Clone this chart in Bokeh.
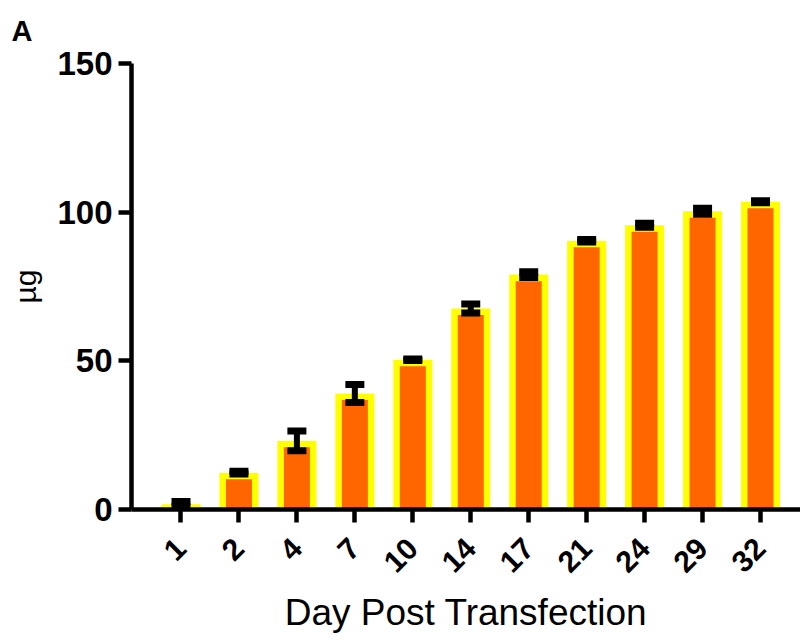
from bokeh.plotting import figure
from bokeh.models import ColumnDataSource, Range1d, FixedTicker, Whisker, TeeHead
from bokeh.embed import file_html
from bokeh.resources import INLINE

# ---- data ----
days = ["1", "2", "4", "7", "10", "14", "17", "21", "24", "29", "32"]
mean_ug = [1.8, 12.4, 23.1, 39.0, 50.4, 67.6, 79.0, 90.4, 95.6, 100.3, 103.5]
sd_ug = [0.9, 0.45, 3.3, 3.0, 0.25, 1.5, 1.0, 0.4, 0.7, 1.0, 0.3]
y_ticks = [0, 50, 100, 150]

# ---- styling constants ----
FONT = "Liberation Sans"
ORANGE = "#FF6600"
YELLOW = "#FFFF00"
BORDER = 2.2  # yellow rim thickness, in y units
W, H = 800, 636

idx = list(range(len(days)))
inner_top = [max(m - BORDER, 0) for m in mean_ug]
src = ColumnDataSource(dict(
    x=idx,
    mean=mean_ug,
    inner=inner_top,
    upper=[m + s for m, s in zip(mean_ug, sd_ug)],
    lower=[m - s for m, s in zip(mean_ug, sd_ug)],
))

p = figure(width=W, height=H, output_backend="svg", toolbar_location=None,
           x_range=Range1d(-0.854, 10.69), y_range=Range1d(0, 150),
           min_border_left=131, min_border_top=62, min_border_right=0,
           min_border_bottom=123, title="A")
p.title.text_font = FONT
p.title.text_font_style = "bold"
p.title.text_font_size = "29px"
p.title.text_color = "black"
p.title.align = "left"
p.title.vertical_align = "top"
p.title.offset = -120
p.title.standoff = 29

p.outline_line_color = None
p.grid.visible = False
p.background_fill_color = "white"
p.border_fill_color = "white"

p.vbar(x="x", top="mean", bottom=0, width=0.673, source=src,
       fill_color=YELLOW, line_color=None)
p.vbar(x="x", top="inner", bottom=0, width=0.449, source=src,
       fill_color=ORANGE, line_color=None)

w = Whisker(source=src, base="x", upper="upper", lower="lower",
            line_color="black", line_width=6, level="overlay",
            upper_head=TeeHead(size=19, line_width=7, line_color="black"),
            lower_head=TeeHead(size=19, line_width=7, line_color="black"))
p.add_layout(w)

# axes
for ax in (p.xaxis[0], p.yaxis[0]):
    ax.axis_line_width = 4.5
    ax.axis_line_color = "black"
    ax.major_tick_line_width = 4.5
    ax.major_tick_line_color = "black"
    ax.major_tick_out = 13
    ax.major_tick_in = 0
    ax.minor_tick_line_color = None
    ax.major_label_text_font = FONT
    ax.major_label_text_font_style = "bold"
    ax.major_label_text_color = "black"
    ax.axis_label_text_font = FONT
    ax.axis_label_text_font_style = "normal"
    ax.axis_label_text_color = "black"

p.xaxis.ticker = FixedTicker(ticks=idx)
p.xaxis.major_label_overrides = {i: d for i, d in zip(idx, days)}
p.xaxis.major_label_orientation = 0.785398
p.xaxis.major_label_text_font_size = "30px"
p.xaxis.major_label_standoff = 21
p.xaxis.axis_label = "Day Post Transfection"
p.xaxis.axis_label_text_font_size = "37px"
p.xaxis.axis_label_standoff = 8

p.yaxis.ticker = FixedTicker(ticks=y_ticks)
p.yaxis.major_label_text_font_size = "33px"
p.yaxis.major_label_standoff = 6
p.yaxis.axis_label = "µg"
p.yaxis.axis_label_text_font_size = "30px"
p.yaxis.axis_label_standoff = 12

open("out.html", "w").write(file_html(p, INLINE))
